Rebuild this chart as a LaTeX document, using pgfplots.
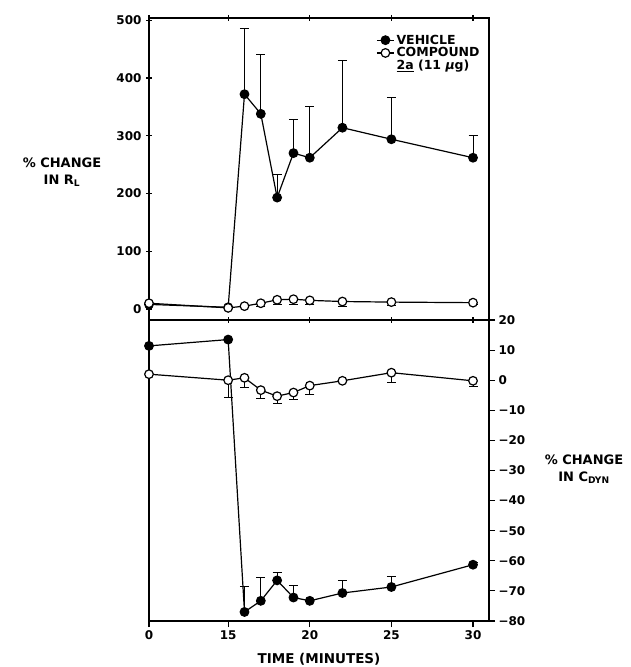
\documentclass[border=0pt]{standalone}
\usepackage{fontspec}
\setmainfont{DejaVu Sans}
\usepackage{pgfplots}
\pgfplotsset{compat=1.18}
\pgfplotstableread{
x y e
10.15 8 0
15 3 0
16 372 113
17 338 102
18 193 40
19 270 58
20 262 88
22 314 116
25 294 73
30 262 38
}\vehtop
\pgfplotstableread{
x y e
10.15 10 0
15 2 0
16 5 0
17 10 5
18 16 8
19 17 9
20 15 7
22 13 8
25 12 6
30 11 4
}\cmptop
\pgfplotstableread{
x y e
10.15 11.4 0
15 13.5 0
16 -77 8.5
17 -73.3 7.9
18 -66.5 2.6
19 -72.2 3.9
20 -73.3 0
22 -70.7 4.2
25 -68.7 3.4
30 -61.3 0.6
}\vehbot
\pgfplotstableread{
x y e
10.15 2 0
15 0 5.7
16 0.8 3.2
17 -3.3 2.9
18 -5.3 2.4
19 -4.1 2.3
20 -1.8 2.8
22 -0.2 0
25 2.5 3.3
30 -0.2 2.0
}\cmpbot
\begin{document}
\begin{tikzpicture}
\path[use as bounding box] (0pt,0pt) rectangle (630pt,667pt);
\pgfplotsset{
 common/.style={
  scale only axis, width=340pt,
  xmin=10.15, xmax=30.98,
  xtick={10.15,15,20,25,30},
  xticklabels={0,15,20,25,30},
  axis line style={line width=1.3pt},
  every tick/.style={line width=1.1pt, black},
  major tick length=6pt,
  tick label style={font=\bfseries\fontsize{12}{12}\selectfont},
  /pgf/number format/assume math mode=true,
  clip=false,
 },
 veh/.style={black, line width=1.2pt, mark=*, mark size=4.3pt, mark options={fill=black, solid},
   error bars/.cd, y dir=plus, y explicit, error bar style={line width=1pt},
   error mark options={mark size=4.5pt, line width=1pt, rotate=90}},
 cmp/.style={black, line width=1.2pt, mark=*, mark size=4.3pt, mark options={fill=white, solid},
   error bars/.cd, y dir=minus, y explicit, error bar style={line width=1pt},
   error mark options={mark size=4.5pt, line width=1pt, rotate=90}},
}
\begin{axis}[common,
  at={(149pt,347pt)}, anchor=south west, height=302pt,
  ymin=-19, ymax=504,
  ytick={0,100,...,500},
  ytick pos=left, y tick label style={xshift=-1pt},
  xtick pos=both, xticklabels={},
  tick align=center,
  legend style={draw=none, fill=none, at={(0.665,0.955)}, anchor=north west,
    font=\bfseries\fontsize{12.5}{12.5}\selectfont, row sep=-2pt, inner sep=1pt,
    cells={anchor=west}},
]
\addplot[veh] table[x=x, y=y, y error=e] {\vehtop};
\addlegendentry{VEHICLE}
\addplot[cmp] table[x=x, y=y, y error=e] {\cmptop};
\addlegendentry{COMPOUND}
\addlegendimage{empty legend}
\addlegendentry{\underline{2a} (11 {\itshape μ}g)}
\end{axis}
\begin{axis}[common,
  at={(149pt,46pt)}, anchor=south west, height=301pt,
  ymin=-80, ymax=20,
  ytick={-80,-70,...,20},
  yticklabels={−80,−70,−60,−50,−40,−30,−20,−10,0,10,20},
  ytick pos=right, yticklabel pos=right,
  xtick pos=bottom,
  tick align=outside,
  xlabel={\bfseries\fontsize{13.5}{14}\selectfont TIME (MINUTES)},
  xlabel style={yshift=-7pt},
]
\addplot[veh] table[x=x, y=y, y error=e] {\vehbot};
\addplot[cmp] table[x=x, y=y, y error=e] {\cmpbot};
\end{axis}
\node[align=center, font=\bfseries\fontsize{13}{17}\selectfont] at (62pt,495pt) {\% CHANGE\\IN R\textsubscript{L}};
\node[align=center, font=\bfseries\fontsize{13}{17}\selectfont] at (584pt,198pt) {\% CHANGE\\IN C\textsubscript{DYN}};
\end{tikzpicture}
\end{document}
